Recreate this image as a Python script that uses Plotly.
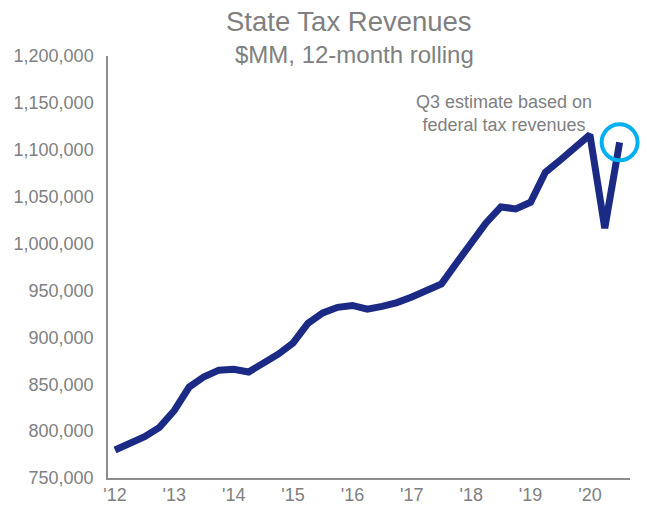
import plotly.graph_objects as go

# Quarterly, 2012 Q1 .. 2020 Q3 (Q3 2020 is an estimate)
quarters = [f"{y}Q{q}" for y in range(2012, 2021) for q in range(1, 5)][:35]
revenues = [
    779800, 786000, 794000, 804000,
    822000, 847000, 858000, 865000,
    866000, 863000, 871500, 882000,
    894000, 915000, 926000, 932000,
    934000, 930000, 933000, 937000,
    943000, 949000, 957000, 979000,
    1001000, 1022000, 1039000, 1037000,
    1044000, 1076000, 1089000, 1103000,
    1116000, 1016500, 1108000,
]
tick_labels = ["'12", "'13", "'14", "'15", "'16", "'17", "'18", "'19", "'20"]
tick_index = [quarters.index(f"{2012 + i}Q1") for i in range(len(tick_labels))]
y_ticks = list(range(750000, 1200001, 50000))

x_idx = list(range(len(quarters)))
x_range = [-0.47, 34.7]
y_range = [750000, 1200000]
gray = "#808080"
FONT = "Liberation Sans, Arial"

fig = go.Figure()
fig.add_trace(go.Scatter(
    x=x_idx, y=revenues, mode="lines",
    line=dict(color="#1B2A84", width=7),
    hoverinfo="skip", showlegend=False,
))

# highlight circle around the estimated final point (paper coords so it is not clipped)
cx = (x_idx[-1] - x_range[0]) / (x_range[1] - x_range[0])
cy = (revenues[-1] - y_range[0]) / (y_range[1] - y_range[0])
fig.add_shape(
    type="circle", xref="paper", yref="paper",
    xsizemode="pixel", ysizemode="pixel",
    xanchor=cx, yanchor=cy,
    x0=-18, x1=18, y0=-18, y1=18,
    line=dict(color="#00B0F0", width=4),
)

fig.add_annotation(
    x=x_idx[-1] - 7.8, y=1139000, xref="x", yref="y",
    text="Q3 estimate based on<br>federal tax revenues",
    showarrow=False, font=dict(family=FONT, size=18, color=gray),
    align="center",
)

# title and subtitle
fig.add_annotation(
    x=0.461, y=1 + 34 / 422, xref="paper", yref="paper", xanchor="center", yanchor="middle",
    text="State Tax Revenues", showarrow=False,
    font=dict(family=FONT, size=27.5, color=gray),
)
fig.add_annotation(
    x=0.473, y=1 + 2 / 422, xref="paper", yref="paper", xanchor="center", yanchor="middle",
    text="$MM, 12-month rolling", showarrow=False,
    font=dict(family=FONT, size=24, color=gray),
)

fig.update_layout(
    width=647, height=508,
    margin=dict(l=108, r=17, t=56, b=30, autoexpand=False),
    paper_bgcolor="white", plot_bgcolor="white",
    font=dict(family=FONT, size=18, color=gray),
)
fig.update_xaxes(
    range=x_range, tickmode="array", tickvals=tick_index, ticktext=tick_labels,
    showgrid=False, zeroline=False, showline=True, linecolor="#8c8c8c", linewidth=1.5,
    ticks="", tickfont=dict(size=18, color=gray), automargin=False,
)
fig.update_yaxes(
    range=y_range, tickmode="array", tickvals=y_ticks,
    ticktext=[f"{v:,}" for v in y_ticks],
    showgrid=False, zeroline=False, showline=True, linecolor="#8c8c8c", linewidth=1.5,
    ticks="", ticklabelstandoff=9, tickfont=dict(size=18, color=gray), automargin=False,
)

fig.write_html("out.html")
